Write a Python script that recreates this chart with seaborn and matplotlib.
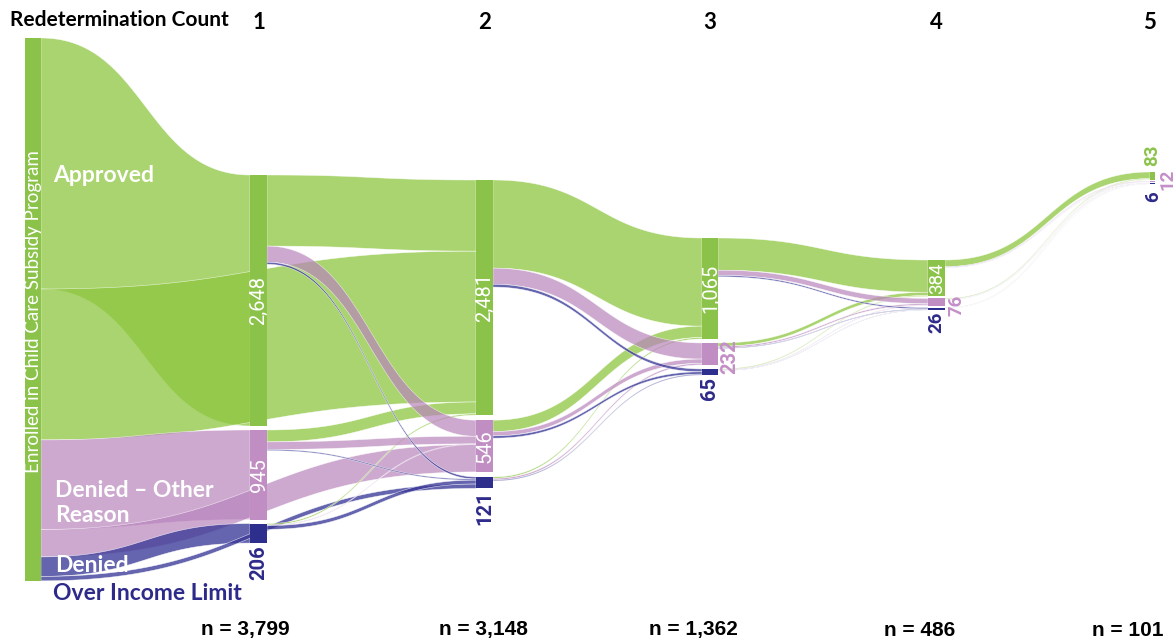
import numpy as np
import pandas as pd
import matplotlib
matplotlib.use("Agg")
import matplotlib.pyplot as plt
import seaborn as sns

# ---------------- data ----------------
stages = ["1", "2", "3", "4", "5"]
statuses = ["Approved", "Denied – Other Reason", "Denied – Over Income Limit"]
enrolled_to_stage1 = [2648, 945, 206]
enrolled_to_stage2 = [1592, 289, 47]
stage1_totals = [2648, 945, 206]
stage2_totals = [2481, 546, 121]
stage3_totals = [1065, 232, 65]
stage4_totals = [384, 76, 26]
stage5_totals = [83, 12, 6]
value_labels = [["2,648", "945", "206"], ["2,481", "546", "121"], ["1,065", "232", "65"],
                ["384", "76", "26"], ["83", "12", "6"]]
n_labels = ["n = 3,799", "n = 3,148", "n = 1,362", "n = 486", "n = 101"]
# transitions: rows = from status, columns = to status
trans_1_2 = [[750, 170, 22], [125, 80, 12], [14, 7, 40]]
trans_2_3 = [[930, 170, 30], [120, 45, 25], [15, 17, 10]]
trans_3_4 = [[340, 55, 14], [35, 15, 8], [9, 6, 4]]
trans_4_5 = [[70, 7, 3], [9, 3, 2], [4, 2, 1]]

# ---------------- style / layout ----------------
sns.set_theme(style="white")
plt.rcParams['font.family'] = ['Lato', 'DejaVu Sans']

node_colors = ["#8BC34A", "#C08EC2", "#2E2E8C"]
flow_colors = ["#8DC63F", "#B985BD", "#3A3897"]
flow_alpha = [0.75, 0.70, 0.78]
label_colors = ["#8BC34A", "#C48FC7", "#2E2A8A"]

col_x = [25, 250, 476, 702, 928, 1150]
col_w = [16, 17, 17, 16, 17, 5]
col_top = [38, 175, 180, 238, 260, 172]
col_gap = [0, 4, 5, 4, 2, 1.2]
scale = 10.55  # persons per unit of axis

stage_totals = [stage1_totals, stage2_totals, stage3_totals, stage4_totals, stage5_totals]
transitions = [trans_1_2, trans_2_3, trans_3_4, trans_4_5]

# nodes
nodes = {}
src_total = sum(enrolled_to_stage1) + sum(enrolled_to_stage2)
nodes[(0, 0)] = dict(x=col_x[0], w=col_w[0], y=col_top[0], h=src_total / scale, v=src_total)
for c, tot in enumerate(stage_totals, start=1):
    y = col_top[c]
    for i, v in enumerate(tot):
        h = v / scale
        nodes[(c, i)] = dict(x=col_x[c], w=col_w[c], y=y, h=h, v=v)
        y += h + col_gap[c]

# links
links = []
order = 0
for i in range(3):
    links.append(dict(s=(0, 0), t=(1, i), v=enrolled_to_stage1[i], k=i, src_order=order)); order += 1
    links.append(dict(s=(0, 0), t=(2, i), v=enrolled_to_stage2[i], k=i, src_order=order)); order += 1
for c, tr in enumerate(transitions, start=1):
    for a in range(3):
        for b in range(3):
            links.append(dict(s=(c, a), t=(c + 1, b), v=tr[a][b], k=b, src_order=None))

# outgoing offsets
for key, nd in nodes.items():
    outs = [l for l in links if l['s'] == key]
    if key == (0, 0):
        outs.sort(key=lambda l: l['src_order'])
    else:
        outs.sort(key=lambda l: nodes[l['t']]['y'] + nodes[l['t']]['h'] / 2)
    y = nd['y']
    for l in outs:
        h = l['v'] / scale
        l['y0'] = y
        l['h'] = h
        y += h
# incoming offsets
for key, nd in nodes.items():
    ins = [l for l in links if l['t'] == key]
    ins.sort(key=lambda l: l['y0'] + l['h'] / 2)
    y = nd['y']
    for l in ins:
        l['y1'] = y
        y += l['h']

fig = plt.figure(figsize=(11.76, 6.44), dpi=100)
ax = fig.add_axes([0, 0, 1, 1])
ax.set_xlim(0, 1176)
ax.set_ylim(644, 0)
ax.axis('off')


def bez(x0, x1, y0, y1, t):
    xm = (x0 + x1) / 2
    x = (1 - t) ** 3 * x0 + 3 * (1 - t) ** 2 * t * xm + 3 * (1 - t) * t ** 2 * xm + t ** 3 * x1
    y = (1 - t) ** 3 * y0 + 3 * (1 - t) ** 2 * t * y0 + 3 * (1 - t) * t ** 2 * y1 + t ** 3 * y1
    return x, y


t = np.linspace(0, 1, 120)
# draw: enrolled flows first, then by target status
draw_order = sorted(range(len(links)), key=lambda j: (links[j]['s'][0] != 0, links[j]['k'], links[j]['s'][0]))
for j in draw_order:
    l = links[j]
    s = nodes[l['s']]
    tg = nodes[l['t']]
    x0 = s['x'] + s['w']
    x1 = tg['x']
    xt, yt = bez(x0, x1, l['y0'], l['y1'], t)
    xb, yb = bez(x0, x1, l['y0'] + l['h'], l['y1'] + l['h'], t)
    poly_x = np.concatenate([xt, xb[::-1]])
    poly_y = np.concatenate([yt, yb[::-1]])
    ax.fill(poly_x, poly_y, color=flow_colors[l['k']], alpha=flow_alpha[l['k']], lw=0.4,
            ec=(1, 1, 1, 0.5), zorder=2)

# nodes
for key, nd in nodes.items():
    col = node_colors[0] if key == (0, 0) else node_colors[key[1]]
    ax.bar(nd['x'], nd['h'], width=nd['w'], bottom=nd['y'], align='edge', color=col,
           edgecolor='none', zorder=3)

# node value labels
num_font = ['Roboto', 'DejaVu Sans']
for c in range(1, 6):
    fs_num = 14.5 if c < 4 else 13.5
    for i in range(3):
        nd = nodes[(c, i)]
        txt = value_labels[c - 1][i]
        cx = nd['x'] + nd['w'] / 2
        need = 10 * len(txt) + 4
        if nd['h'] >= need:
            ax.text(cx + 0.5, nd['y'] + nd['h'] / 2, txt, rotation=90, ha='center', va='center',
                    color='white', fontsize=fs_num, family=num_font, zorder=5)
        elif i == 0:
            ax.text(cx, nd['y'] - 6, txt, rotation=90, ha='center', va='bottom',
                    color=label_colors[0], fontsize=fs_num, fontweight='bold', family=num_font, zorder=5)
        elif i == 1:
            if c == 5:
                ax.text(nd['x'] + nd['w'] + 3, nd['y'] - 2, txt, rotation=90, ha='left', va='center',
                        color=label_colors[1], fontsize=fs_num, fontweight='bold', family=num_font,
                        zorder=5)
            else:
                ax.text(nd['x'] + nd['w'] + 2, nd['y'] - 4, txt, rotation=90, ha='left', va='top',
                        color=label_colors[1], fontsize=fs_num, fontweight='bold', family=num_font,
                        zorder=5)
        else:
            ax.text(cx + (0 if c < 5 else 1), nd['y'] + nd['h'] + (2 if c < 5 else 7), txt,
                    rotation=90, ha='center', va='top',
                    color=label_colors[2], fontsize=fs_num, fontweight='bold', family=num_font, zorder=5)

# source label
src = nodes[(0, 0)]
ax.text(src['x'] + src['w'] / 2 + 1, 312, "Enrolled in Child Care Subsidy Program", rotation=90,
        ha='center', va='center', color='white', fontsize=13.5, zorder=5)

# flow labels
ax.text(53, 175, "Approved", color='white', fontsize=16.5, fontweight='bold', va='center', zorder=5)
ax.text(55, 503, "Denied – Other\nReason", color='white', fontsize=16.5, fontweight='bold',
        va='center', linespacing=1.2, zorder=5)
ax.text(55, 566, "Denied", color='white', fontsize=16.5, fontweight='bold', va='center', zorder=5)
ax.text(53, 594, "Over Income Limit", color=label_colors[2], fontsize=16.5, fontweight='bold',
        va='center', zorder=5)

# headers
ax.text(10, 20, "Redetermination Count", color='black', fontsize=15, fontweight='bold',
        va='center', ha='left')
for c, sname in enumerate(stages, start=1):
    ax.text(col_x[c] + col_w[c] / 2 + (0 if c < 5 else -3), 22, sname, color='black', fontsize=16,
            fontweight='bold', ha='center', va='center')

n_x = [245, 483, 693, 920, 1128]
for xx, lab in zip(n_x, n_labels):
    ax.text(xx, 630, lab, color='black', fontsize=15, fontweight='bold', ha='center', va='center',
            family=['Liberation Sans', 'DejaVu Sans'])

fig.savefig("out.png", dpi=100)
